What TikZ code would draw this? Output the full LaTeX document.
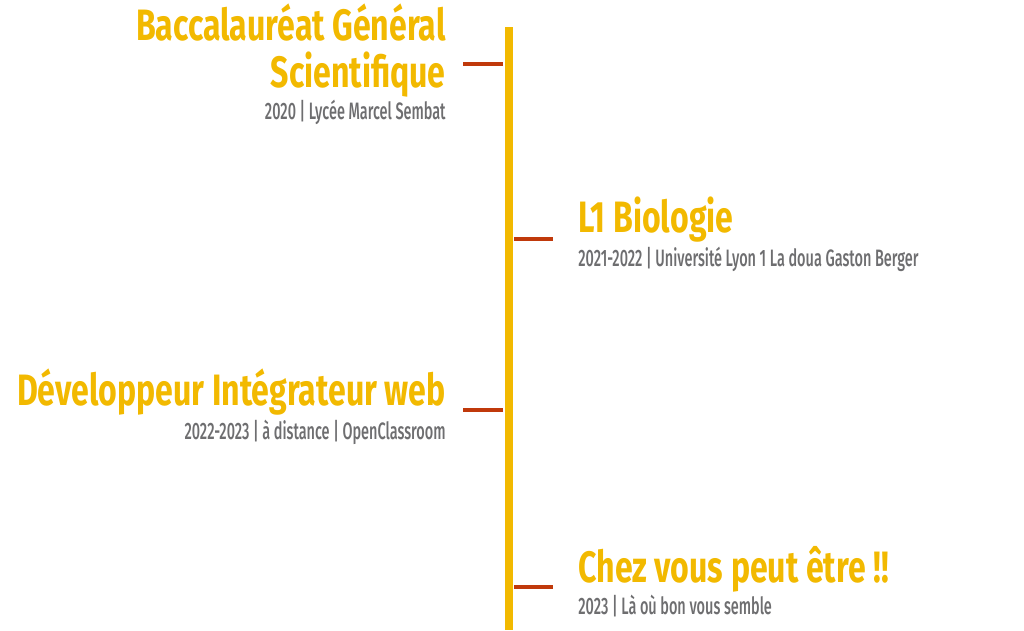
\documentclass[tikz,border=0pt]{standalone}
\usepackage{fontspec}
\usepackage{xcolor}
\usepackage{tikz}
\setmainfont{Fira Sans}
\newfontfamily\titrefont{Fira Sans}[FakeStretch=0.73,UprightFont=* Bold]
\newfontfamily\soustitrefont{Fira Sans}[FakeStretch=0.61,UprightFont=* Medium]
\definecolor{jaune}{HTML}{F2B900}
\definecolor{rouille}{HTML}{C0390B}
\definecolor{gris}{HTML}{6E6E70}

\begin{document}
\begin{tikzpicture}[
    x=0.02cm, y=-0.02cm,
    titre/.style={inner sep=0pt, text=jaune, font=\titrefont\fontsize{25}{26.6}\selectfont},
    soustitre/.style={inner sep=0pt, text=gris, font=\soustitrefont\fontsize{13.5}{15}\selectfont},
    axe/.style={draw=jaune, line width=4pt},
    trait/.style={draw=rouille, line width=2pt}
]

\useasboundingbox (0,0) rectangle (1024,630);

\coordinate (haut) at (509,27);
\coordinate (bas) at (509,630);
\draw[axe] (haut) -- (bas);

\coordinate (bac) at (503,64);
\coordinate (licence) at (514,239);
\coordinate (dev) at (503,410);
\coordinate (avenir) at (514,587);

\draw[trait] (bac) -- ++(-40,0);
\draw[trait] (licence) -- ++(39,0);
\draw[trait] (dev) -- ++(-40,0);
\draw[trait] (avenir) -- ++(39,0);

\node[titre, anchor=base east, align=right] (bac_titre) at (446,87) {Baccalauréat Général\\Scientifique};
\node[soustitre, anchor=base east] (bac_info) at (446,119) {2020 | Lycée Marcel Sembat};

\node[titre, anchor=base west] (licence_titre) at (578,232) {L1 Biologie};
\node[soustitre, anchor=base west] (licence_info) at (578,266) {2021-2022 | Université Lyon 1 La doua Gaston Berger};

\node[titre, anchor=base east] (dev_titre) at (446,405) {Développeur Intégrateur web};
\node[soustitre, anchor=base east] (dev_info) at (446,439) {2022-2023 | à distance | OpenClassroom};

\node[titre, anchor=base west] (avenir_titre) at (578,582) {Chez vous peut être !!};
\node[soustitre, anchor=base west] (avenir_info) at (578,614) {2023 | Là où bon vous semble};

\end{tikzpicture}
\end{document}
